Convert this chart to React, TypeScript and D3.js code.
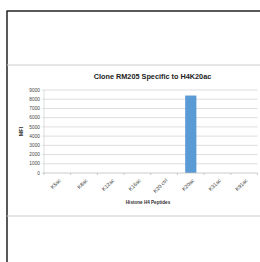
import React, { useEffect, useRef } from 'react';
import * as d3 from 'd3';

const peptides = ['K5ac', 'K8ac', 'K12ac', 'K16ac', 'K20 ctrl', 'K20ac', 'K31ac', 'K91ac'];
const mfi = [0, 0, 0, 0, 0, 8400, 0, 0];
const yTicks = [0, 1000, 2000, 3000, 4000, 5000, 6000, 7000, 8000, 9000];

const App = () => {
  const svgRef = useRef<SVGSVGElement>(null);

  useEffect(() => {
    const svg = d3.select(svgRef.current);
    svg.selectAll('*').remove();

    const width = 260;
    const height = 262;
    const font = 'Liberation Sans, Arial, sans-serif';

    svg.attr('width', width).attr('height', height);

    svg.append('rect').attr('width', width).attr('height', height).attr('fill', '#fff');

    // page frame
    svg.append('line')
      .attr('x1', 6.5).attr('x2', width).attr('y1', 11).attr('y2', 11)
      .attr('stroke', '#222').attr('stroke-width', 1.5);
    svg.append('line')
      .attr('x1', 7).attr('x2', 7).attr('y1', 11).attr('y2', height)
      .attr('stroke', '#222').attr('stroke-width', 1.5);

    // chart area separators
    [65, 216].forEach(y => {
      svg.append('line')
        .attr('x1', 7).attr('x2', width).attr('y1', y).attr('y2', y)
        .attr('stroke', '#ccc').attr('stroke-width', 1);
    });

    const left = 44;
    const right = 257.5;
    const top = 90;
    const bottom = 173;

    const x = d3.scaleBand().domain(peptides).range([left, right]).paddingInner(0.58).paddingOuter(0.29);
    const xTickScale = d3.scaleLinear().domain([0, peptides.length]).range([left, right]);
    const y = d3.scaleLinear().domain([0, 9000]).range([bottom, top]);

    // title
    svg.append('text')
      .attr('x', 152.5).attr('y', 78.5)
      .attr('text-anchor', 'middle')
      .style('font-family', font).style('font-size', '7.3px').style('font-weight', 'bold')
      .attr('fill', '#222')
      .text('Clone RM205 Specific to H4K20ac');

    // gridlines
    svg.append('g').selectAll('line')
      .data(yTicks.filter(t => t > 0))
      .enter().append('line')
      .attr('x1', left - 2).attr('x2', right)
      .attr('y1', d => y(d)).attr('y2', d => y(d))
      .attr('stroke', '#d4d4d4').attr('stroke-width', 0.8);

    // y axis line
    svg.append('line')
      .attr('x1', left).attr('x2', left).attr('y1', top).attr('y2', bottom)
      .attr('stroke', '#d4d4d4').attr('stroke-width', 0.8);

    // y labels
    svg.append('g').selectAll('text')
      .data(yTicks)
      .enter().append('text')
      .attr('x', 40).attr('y', d => y(d))
      .attr('dy', '0.35em')
      .attr('text-anchor', 'end')
      .style('font-family', font).style('font-size', '4.8px')
      .attr('fill', '#444')
      .text(d => d);

    // bars
    svg.append('g').selectAll('rect')
      .data(peptides.map((p, i) => ({ p, v: mfi[i] })))
      .enter().append('rect')
      .attr('x', d => x(d.p)!)
      .attr('y', d => y(d.v))
      .attr('width', x.bandwidth())
      .attr('height', d => bottom - y(d.v))
      .attr('fill', '#5b9bd5');

    // x axis line and ticks
    svg.append('line')
      .attr('x1', left - 2).attr('x2', right).attr('y1', bottom).attr('y2', bottom)
      .attr('stroke', '#bfbfbf').attr('stroke-width', 0.8);
    svg.append('g').selectAll('line')
      .data(d3.range(peptides.length + 1))
      .enter().append('line')
      .attr('x1', d => xTickScale(d)).attr('x2', d => xTickScale(d))
      .attr('y1', bottom).attr('y2', bottom + 2)
      .attr('stroke', '#bfbfbf').attr('stroke-width', 0.8);

    // x labels, rotated
    svg.append('g').selectAll('text')
      .data(peptides)
      .enter().append('text')
      .attr('transform', d => `translate(${x(d)! + x.bandwidth() / 2 + 2.5},${bottom + 6.5}) rotate(-45)`)
      .attr('text-anchor', 'end')
      .attr('dy', '0.35em')
      .style('font-family', font).style('font-size', '5.2px')
      .attr('fill', '#333')
      .text(d => d);

    // axis titles
    svg.append('text')
      .attr('x', 148).attr('y', 203.5)
      .attr('text-anchor', 'middle')
      .style('font-family', font).style('font-size', '4.6px').style('font-weight', 'bold')
      .attr('fill', '#333')
      .text('Histone H4 Peptides');

    svg.append('text')
      .attr('transform', `translate(22.5,${(top + bottom) / 2}) rotate(-90)`)
      .attr('text-anchor', 'middle')
      .style('font-family', font).style('font-size', '5.5px').style('font-weight', 'bold')
      .attr('fill', '#333')
      .text('MFI');
  }, []);

  return (
    <svg ref={svgRef} style={{ position: 'absolute', left: 0, top: 0, display: 'block' }}></svg>
  );
};

export default App;
